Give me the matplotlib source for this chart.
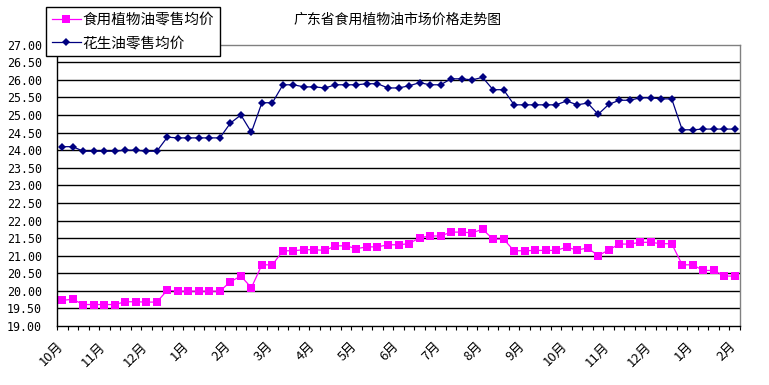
import matplotlib
matplotlib.use('Agg')
import matplotlib.pyplot as plt
import matplotlib.transforms as mtransforms
import numpy as np

plt.rcParams['font.family'] = ['Noto Sans CJK SC', 'DejaVu Sans']

# weekly average retail prices (yuan)
veg_oil = [19.73, 19.76, 19.61, 19.61, 19.61, 19.61, 19.69, 19.69, 19.68, 19.68,
           20.02, 19.99, 19.99, 19.99, 19.99, 19.99, 20.26, 20.42, 20.09, 20.74,
           20.74, 21.14, 21.14, 21.17, 21.17, 21.15, 21.28, 21.28, 21.20, 21.25,
           21.25, 21.31, 21.31, 21.34, 21.51, 21.56, 21.56, 21.67, 21.67, 21.65,
           21.75, 21.47, 21.47, 21.14, 21.14, 21.15, 21.15, 21.15, 21.24, 21.16,
           21.22, 21.00, 21.16, 21.33, 21.33, 21.38, 21.38, 21.34, 21.34, 20.74,
           20.74, 20.58, 20.58, 20.42, 20.42]
peanut_oil = [24.10, 24.10, 23.97, 23.97, 23.97, 23.97, 24.00, 24.00, 23.97, 23.97,
              24.37, 24.35, 24.35, 24.35, 24.35, 24.35, 24.77, 25.00, 24.51, 25.35,
              25.35, 25.86, 25.86, 25.80, 25.80, 25.77, 25.86, 25.86, 25.86, 25.89,
              25.89, 25.77, 25.77, 25.83, 25.92, 25.86, 25.86, 26.03, 26.03, 26.00,
              26.07, 25.72, 25.72, 25.29, 25.29, 25.29, 25.29, 25.29, 25.40, 25.29,
              25.34, 25.02, 25.30, 25.42, 25.42, 25.49, 25.49, 25.46, 25.46, 24.58,
              24.58, 24.60, 24.60, 24.60, 24.60]
month_labels = ['10月', '11月', '12月', '1月', '2月', '3月', '4月', '5月', '6月',
                '7月', '8月', '9月', '10月', '11月', '12月', '1月', '2月']
label_step = 4

n = len(veg_oil)
x = np.arange(n)

fig = plt.figure(figsize=(7.69, 3.85), dpi=100)
ax = fig.add_axes([57 / 769, 1 - 326 / 385, 683 / 769, 281.3 / 385])

l1, = ax.plot(x, veg_oil, color='#FF00FF', lw=0.9, marker='s', ms=5.4,
              markeredgewidth=0, label='食用植物油零售均价')
l2, = ax.plot(x, peanut_oil, color='#000080', lw=0.9, marker='D', ms=4.0,
              markeredgewidth=0, label='花生油零售均价')

ax.set_xlim(-0.5, n - 0.5)
ax.set_ylim(19, 27)
yt = np.arange(19, 27.01, 0.5)
ax.set_yticks(yt)
ax.set_yticklabels(['%.2f' % v for v in yt], family='DejaVu Sans Mono', fontsize=8.4)
ax.tick_params(axis='y', length=0, pad=11)
for v in yt[1:-1]:
    ax.axhline(v, color='black', lw=1.0, zorder=0)

# tick marks between categories, labels every 4 weeks
ax.set_xticks(np.arange(-0.5, n, 1))
ax.set_xticklabels([])
ax.tick_params(axis='x', which='major', direction='out', length=3, width=0.8)
ax.set_xticks(x[::label_step], minor=True)
ax.set_xticklabels(month_labels, minor=True, rotation=45, ha='right',
                   rotation_mode='anchor', fontsize=9.5)
ax.tick_params(axis='x', which='minor', length=0, pad=10)
offset = mtransforms.ScaledTranslation(-6 / 100, 0, fig.dpi_scale_trans)
for lab in ax.get_xticklabels(minor=True):
    lab.set_transform(lab.get_transform() + offset)

ax.spines['left'].set_color('black')
ax.spines['bottom'].set_color('black')
ax.spines['top'].set_color('#808080')
ax.spines['right'].set_color('#808080')
for s in ax.spines.values():
    s.set_linewidth(1.0)

fig.text(398 / 769, 1 - 20 / 385, '广东省食用植物油市场价格走势图', ha='center',
         va='center', fontsize=10)

leg = fig.legend(handles=[l1, l2], loc='upper left',
                 bbox_to_anchor=(46 / 769, 1 - 7 / 385), fontsize=10.5,
                 frameon=True, fancybox=False, shadow=False, framealpha=1,
                 edgecolor='black', borderpad=0.4, handlelength=2.0,
                 handletextpad=0.1, labelspacing=0.65, borderaxespad=0)
leg.get_frame().set_linewidth(1.0)

fig.savefig('out.png', dpi=100)
